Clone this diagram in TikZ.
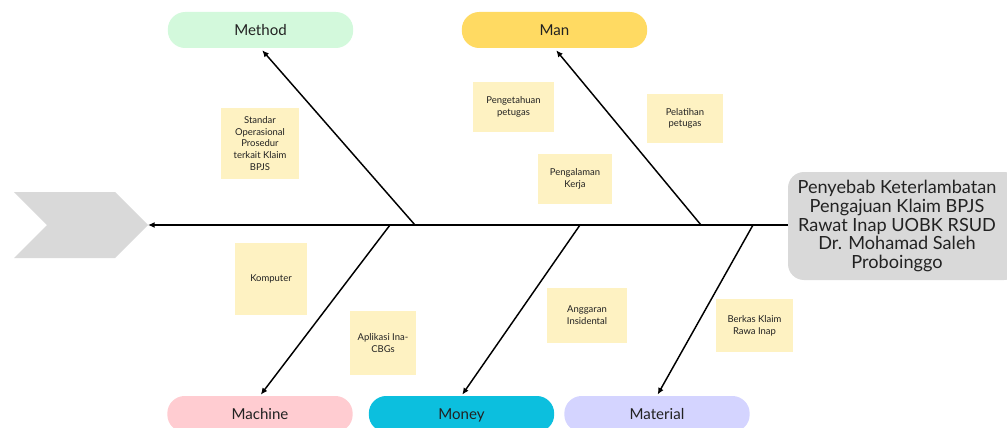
\documentclass[tikz,border=0pt]{standalone}
\usepackage{fontspec}
\setmainfont{Lato}
\usetikzlibrary{arrows.meta}
\definecolor{methodgreen}{HTML}{D3F9DC}
\definecolor{mangold}{HTML}{FFDA62}
\definecolor{machinepink}{HTML}{FFCCD1}
\definecolor{moneycyan}{HTML}{0CBFDE}
\definecolor{materialblue}{HTML}{D4D4FF}
\definecolor{noteyellow}{HTML}{FEF2C2}
\definecolor{headgray}{HTML}{D9D9D9}
\definecolor{inkgray}{HTML}{222222}
\begin{document}
\begin{tikzpicture}[x=0.75pt,y=-0.75pt,
    cat/.style={rounded corners=13pt, minimum width=139pt, minimum height=27pt,
      inner sep=0pt, text=inkgray, text height=8pt, text depth=0pt,
      font=\fontsize{11.3}{13}\selectfont},
    note/.style={fill=noteyellow, align=center, inner sep=0pt, text=inkgray,
      font=\fontsize{7.1}{8.8}\selectfont},
    bone/.style={line width=1.1pt, -{Latex[length=5pt,width=4.5pt]}}]
  \useasboundingbox (0,0) rectangle (1007,428);
  \fill[headgray] (14,192) -- (115,192) -- (148,225) -- (115,258) -- (14,258) -- (47,225) -- cycle;
  \coordinate (head) at (148,225);
  \node[fill=headgray, rounded corners=12pt, minimum width=174pt, minimum height=81pt] (effect) at (904,226) {};
  \node[align=center, text=inkgray, font=\fontsize{13.6}{13.9}\selectfont] (effecttext) at (897,226)
    {Penyebab Keterlambatan\\Pengajuan Klaim BPJS\\Rawat Inap UOBK RSUD\\Dr. Mohamad Saleh\\Proboinggo};
  \node[cat, fill=methodgreen] (method) at (260.5,30) {Method};
  \node[cat, fill=mangold] (man) at (554.5,30) {Man};
  \node[cat, fill=machinepink] (machine) at (260,414) {Machine};
  \node[cat, fill=moneycyan] (money) at (461.5,414) {Money};
  \node[cat, fill=materialblue] (material) at (657,414) {Material};
  \node[note, minimum width=58.5pt, minimum height=53pt] (sop) at (260,143.5)
    {Standar\\Operasional\\Prosedur\\terkait Klaim\\BPJS};
  \node[note, minimum width=61pt, minimum height=37.5pt] (pengetahuan) at (513.5,107)
    {Pengetahuan\\petugas};
  \node[note, minimum width=55.5pt, minimum height=37.5pt] (pengalaman) at (575,179)
    {Pengalaman\\Kerja};
  \node[note, minimum width=57pt, minimum height=37pt] (pelatihan) at (685,118.5)
    {Pelatihan\\petugas};
  \node[note, minimum width=54pt, minimum height=54pt] (komputer) at (271,279)
    {Komputer};
  \node[note, minimum width=49.5pt, minimum height=48pt] (aplikasi) at (383,343)
    {Aplikasi Ina-\\CBGs};
  \node[note, minimum width=60pt, minimum height=41pt] (anggaran) at (587,315.5)
    {Anggaran\\Insidental};
  \node[note, minimum width=58pt, minimum height=40pt] (berkas) at (754.5,325.5)
    {Berkas Klaim\\Rawa Inap};
  \coordinate (jmethod) at (415,225);
  \coordinate (jman) at (701,225);
  \coordinate (jmachine) at (390,225);
  \coordinate (jmoney) at (580,225);
  \coordinate (jmaterial) at (753,225);
  \begin{scope}[bone]
    \draw (effect.west |- head) -- (head);
    \draw[shorten >=2pt] (jmethod) -- (method.south);
    \draw[shorten >=2pt] (jman) -- (man.south);
    \draw[shorten >=1pt] (jmachine) -- (machine.north);
    \draw[shorten >=1pt] (jmoney) -- (money.north);
    \draw[shorten >=1pt] (jmaterial) -- (material.north);
  \end{scope}
\end{tikzpicture}
\end{document}
